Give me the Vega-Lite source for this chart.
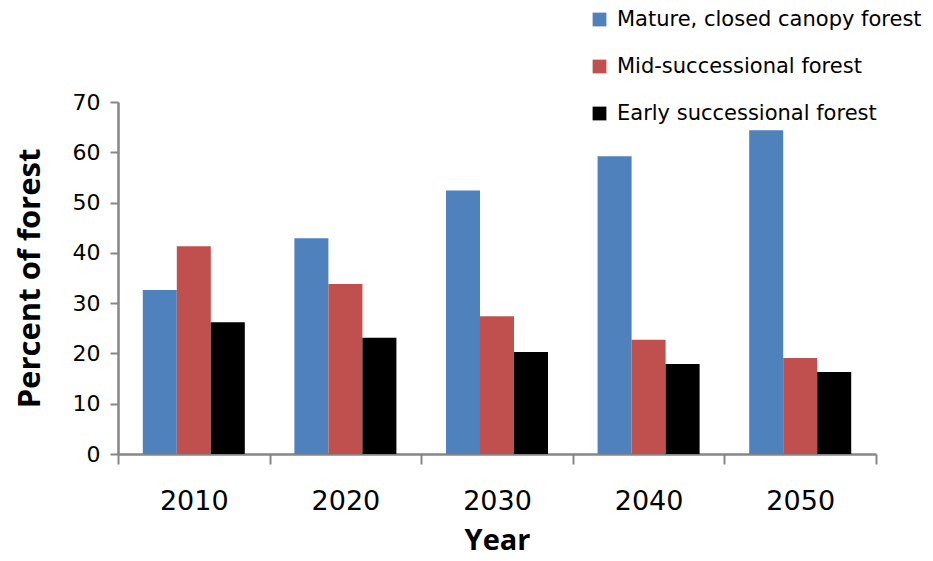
{
  "$schema": "https://vega.github.io/schema/vega-lite/v6.json",
  "width": 758,
  "height": 352,
  "autosize": {"type": "none"},
  "padding": {"left": 118, "top": 102, "right": 57, "bottom": 107},
  "background": "white",
  "config": {
    "view": {"stroke": null},
    "font": "DejaVu Sans"
  },
  "data": {
    "values": [
      {"year": "2010", "type": "Mature, closed canopy forest", "pct": 32.6},
      {"year": "2010", "type": "Mid-successional forest", "pct": 41.3},
      {"year": "2010", "type": "Early successional forest", "pct": 26.2},
      {"year": "2020", "type": "Mature, closed canopy forest", "pct": 42.9},
      {"year": "2020", "type": "Mid-successional forest", "pct": 33.8},
      {"year": "2020", "type": "Early successional forest", "pct": 23.1},
      {"year": "2030", "type": "Mature, closed canopy forest", "pct": 52.4},
      {"year": "2030", "type": "Mid-successional forest", "pct": 27.4},
      {"year": "2030", "type": "Early successional forest", "pct": 20.3},
      {"year": "2040", "type": "Mature, closed canopy forest", "pct": 59.2},
      {"year": "2040", "type": "Mid-successional forest", "pct": 22.7},
      {"year": "2040", "type": "Early successional forest", "pct": 17.9},
      {"year": "2050", "type": "Mature, closed canopy forest", "pct": 64.4},
      {"year": "2050", "type": "Mid-successional forest", "pct": 19.1},
      {"year": "2050", "type": "Early successional forest", "pct": 16.3}
    ]
  },
  "mark": {"type": "bar"},
  "encoding": {
    "x": {
      "field": "year",
      "type": "ordinal",
      "scale": {"paddingInner": 0, "paddingOuter": 0},
      "axis": {
        "title": "Year",
        "titleFont": "Open Sans",
        "titleFontSize": 29,
        "titleFontWeight": "bold",
        "titleColor": "black",
        "titlePadding": 12,
        "labelAngle": 0,
        "labelFontSize": 27,
        "labelColor": "black",
        "labelPadding": 24,
        "tickBand": "extent",
        "tickSize": 10,
        "tickColor": "#868686",
        "tickWidth": 2,
        "domainColor": "#868686",
        "domainWidth": 2.5
      }
    },
    "xOffset": {
      "field": "type",
      "type": "nominal",
      "sort": ["Mature, closed canopy forest", "Mid-successional forest", "Early successional forest"],
      "scale": {"paddingInner": 0, "paddingOuter": 0.729}
    },
    "y": {
      "field": "pct",
      "type": "quantitative",
      "scale": {"domain": [0, 70], "nice": false},
      "axis": {
        "title": "Percent of forest",
        "titleFont": "Open Sans",
        "titleFontSize": 31,
        "titleFontWeight": "bold",
        "titleColor": "black",
        "titlePadding": 26,
        "values": [0, 10, 20, 30, 40, 50, 60, 70],
        "grid": false,
        "labelFontSize": 22,
        "labelColor": "black",
        "labelPadding": 10,
        "tickSize": 8,
        "tickColor": "#868686",
        "tickWidth": 2,
        "domainColor": "#868686",
        "domainWidth": 2.5
      }
    },
    "color": {
      "field": "type",
      "type": "nominal",
      "scale": {
        "domain": ["Mature, closed canopy forest", "Mid-successional forest", "Early successional forest"],
        "range": ["#4F81BD", "#C0504D", "#000000"]
      },
      "legend": {
        "title": null,
        "orient": "none",
        "legendX": 471,
        "legendY": -93,
        "symbolType": "square",
        "symbolSize": 190,
        "symbolStrokeWidth": 0,
        "labelFontSize": 21,
        "labelColor": "black",
        "labelOffset": 7,
        "rowPadding": 25,
        "labelLimit": 400
      }
    }
  }
}
